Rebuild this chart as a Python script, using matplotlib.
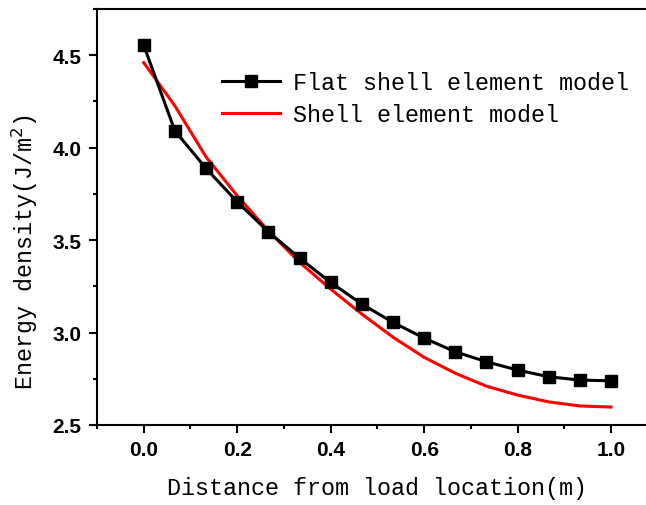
import matplotlib
matplotlib.use("Agg")
import matplotlib.pyplot as plt
import numpy as np
from matplotlib.ticker import MultipleLocator

# Data
x_flat = [0, 1/15, 2/15, 3/15, 4/15, 5/15, 6/15, 7/15, 8/15, 9/15, 10/15, 11/15, 12/15, 13/15, 14/15, 1.0]
y_flat = [4.554, 4.091, 3.888, 3.707, 3.545, 3.403, 3.271, 3.154, 3.055, 2.970, 2.896, 2.842, 2.797, 2.761, 2.743, 2.739]
x_shell = x_flat
y_shell = [4.46, 4.226, 3.95, 3.74, 3.55, 3.38, 3.235, 3.10, 2.975, 2.866, 2.78, 2.71, 2.662, 2.625, 2.603, 2.597]

label_flat = "Flat shell element model"
label_shell = "Shell element model"
xlabel = "Distance from load location(m)"
ylabel = "Energy density(J/m$^2$)"

W, H = 646, 506
fig = plt.figure(figsize=(W/100, H/100), dpi=100)
ax = fig.add_axes([97/W, 80/H, (657.8-97)/W, (426-10)/H])

mono = "Liberation Mono"
fs = 16.8

ax.plot(x_flat, y_flat, color="black", lw=2.2, marker="s", ms=9, mfc="black", mec="black", label=label_flat, zorder=3)
ax.plot(x_shell, y_shell, color="#ff0000", lw=2.2, label=label_shell, zorder=2)

ax.set_xlim(-0.1, 1.1)
ax.set_ylim(2.5, 4.75)
ax.xaxis.set_minor_locator(MultipleLocator(0.1))
ax.yaxis.set_minor_locator(MultipleLocator(0.25))
ax.set_xticks([0.0, 0.2, 0.4, 0.6, 0.8, 1.0])
ax.set_xticklabels(["0.0", "0.2", "0.4", "0.6", "0.8", "1.0"])
ax.set_yticks([2.5, 3.0, 3.5, 4.0, 4.5])
ax.set_yticklabels(["2.5", "3.0", "3.5", "4.0", "4.5"])

ax.tick_params(which="major", direction="out", length=6, width=1.5, labelsize=15, pad=5)
ax.tick_params(which="minor", direction="out", length=3, width=1.5)
for lab in ax.get_xticklabels() + ax.get_yticklabels():
    lab.set_fontfamily("Liberation Sans")
    lab.set_fontweight("bold")
for sp in ax.spines.values():
    sp.set_linewidth(1.5)

ax.set_xlabel(xlabel, fontfamily=mono, fontsize=fs, labelpad=12)
ax.set_ylabel(ylabel, fontfamily=mono, fontsize=fs, va="center")
ax.yaxis.set_label_coords(-0.128, 0.418)

leg = ax.legend(loc="upper left", bbox_to_anchor=(222/W, 1-72/H), bbox_transform=fig.transFigure,
                frameon=False, prop={"family": mono, "size": fs}, handlelength=2.5,
                handletextpad=0.55, labelspacing=0.4, borderpad=0, borderaxespad=0)

fig.savefig("out.png", dpi=100)
